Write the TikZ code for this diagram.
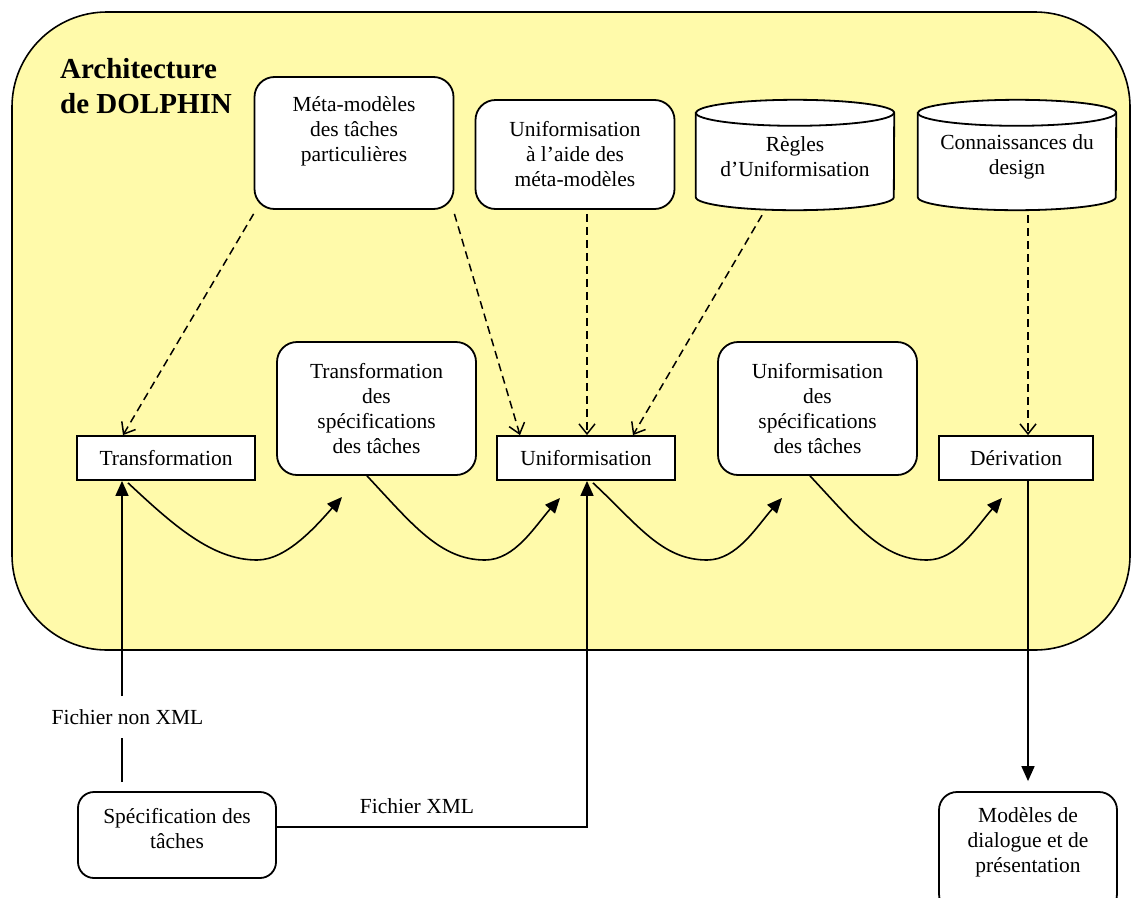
\documentclass[tikz,border=0pt]{standalone}
\usepackage{fontspec}
\setmainfont{Liberation Serif}
\usetikzlibrary{arrows.meta}
\definecolor{archyellow}{RGB}{255,250,170}
\newcommand{\drawdb}[1]{%
  \draw[line width=1.8pt, fill=white] ([yshift=-13pt]#1.north west) -- ([yshift=13pt]#1.south west)
    arc[start angle=180, end angle=360, x radius=99pt, y radius=13pt]
    -- ([yshift=-13pt]#1.north east)
    arc[start angle=0, end angle=180, x radius=99pt, y radius=13pt] -- cycle;
  \draw[line width=1.8pt] ([yshift=-13pt]#1.north west)
    arc[start angle=180, end angle=360, x radius=99pt, y radius=13pt];}
\begin{document}
\begin{tikzpicture}[x=1pt,y=-1pt,
  every node/.style={font=\fontsize{21.5}{25}\selectfont, align=center, inner sep=0pt},
  rbox/.style={draw, line width=1.8pt, fill=white, rounded corners=20pt, minimum width=199pt},
  sbox/.style={draw, line width=1.8pt, fill=white, minimum width=178pt, minimum height=44pt},
  dasharr/.style={line width=1.5pt, dash pattern=on 8pt off 5pt, -{Straight Barb[length=10pt,width=16pt]}},
  solarr/.style={line width=1.6pt, -{Triangle[length=15pt,width=13pt]}},
  plainline/.style={line width=1.6pt},
]
\clip (0,0) rectangle (1131,897);
\fill[white] (0,0) rectangle (1131,897);

% main frame
\node[draw, line width=1.6pt, fill=archyellow, rounded corners=95pt,
      minimum width=1118pt, minimum height=638pt] (arch) at (571,331) {};
\node[anchor=north west, align=left, font=\fontsize{29}{35}\selectfont\bfseries] (title) at (60,58)
  {Architecture\\de DOLPHIN};

% top row
\node[rbox, minimum height=132pt] (meta) at (354,143) {};
\node (metat) at (354,131) {Méta-modèles\\des tâches\\particulières};
\node[rbox, minimum height=109pt] (ua) at (575,154.5) {Uniformisation\\à l’aide des\\méta-modèles};

\node[minimum width=198pt, minimum height=110pt] (rg) at (795,155) {};
\drawdb{rg}
\node (rgt) at (795,157) {Règles\\d’Uniformisation};
\node[minimum width=198pt, minimum height=110pt] (cd) at (1017,155) {};
\drawdb{cd}
\node (cdt) at (1017,157) {Connaissances du\\design};

% middle row
\node[sbox] (tr) at (166,458) {Transformation};
\node[rbox, minimum height=133pt] (tds) at (376.5,408.5) {Transformation\\des\\spécifications\\des tâches};
\node[sbox] (un) at (586,458) {Uniformisation};
\node[rbox, minimum height=133pt] (uds) at (817.5,408.5) {Uniformisation\\des\\spécifications\\des tâches};
\node[sbox, minimum width=154pt] (de) at (1016,458) {Dérivation};

% bottom
\node[rbox, rounded corners=16pt, minimum width=198pt, minimum height=86pt] (sp) at (177,835) {};
\node (spt) at (177,829) {Spécification des\\tâches};
\node[rbox, rounded corners=18pt, minimum width=178pt, minimum height=120pt] (md) at (1028,852) {};
\node (mdt) at (1028,842) {Modèles de\\dialogue et de\\présentation};

\node[inner ysep=13pt] (f1) at (127.5,717) {Fichier non XML};
\node (f2) at (417,806) {Fichier XML};

% coordinates
\coordinate (tin) at ([xshift=-44pt]tr.south);
\coordinate (uin) at ([xshift=1pt]un.south);
\coordinate (c1b) at (257,560);
\coordinate (c1t) at (342,497);
\coordinate (c2b) at (485,560);
\coordinate (c2t) at (560,498);
\coordinate (c3b) at (707,560);
\coordinate (c3t) at (782,498);
\coordinate (c4b) at (927,560);
\coordinate (c4t) at (1002,498);

% dashed arrows
\draw[dasharr] ([yshift=-4pt]meta.south west) -- ([xshift=-43pt]tr.north);
\draw[dasharr] ([yshift=-4pt]meta.south east) -- ([xshift=-66pt]un.north);
\draw[dasharr] ([yshift=-4pt]ua.south -| uin) -- (un.north -| uin);
\draw[dasharr] ([xshift=-33pt,yshift=-5pt]rg.south) -- ([xshift=47pt]un.north);
\draw[dasharr] ([xshift=11pt,yshift=-5pt]cd.south) -- ([xshift=12pt]de.north);

% curved arrows
\draw[solarr] ([xshift=-38pt,yshift=-2pt]tr.south) .. controls +(45,42) and +(-45,0) .. (c1b)
   .. controls +(30,0) and +(-25,28) .. (c1t);
\draw[solarr] ([xshift=-9.5pt]tds.south) .. controls +(45,48) and +(-45,0) .. (c2b)
   .. controls +(30,0) and +(-25,28) .. (c2t);
\draw[solarr] ([xshift=7pt,yshift=-2pt]un.south) .. controls +(45,42) and +(-45,0) .. (c3b)
   .. controls +(30,0) and +(-25,28) .. (c3t);
\draw[solarr] ([xshift=-7.5pt]uds.south) .. controls +(45,48) and +(-45,0) .. (c4b)
   .. controls +(30,0) and +(-25,28) .. (c4t);

% input / output arrows
\draw[plainline] ([yshift=9pt]sp.north -| tin) -- (f1.south -| tin);
\draw[solarr] (f1.north -| tin) -- (tin);
\draw[solarr] ([yshift=8pt]sp.east) -| (uin);
\draw[solarr] (md.north |- de.south) -- ([yshift=10pt]md.north);
\end{tikzpicture}
\end{document}
